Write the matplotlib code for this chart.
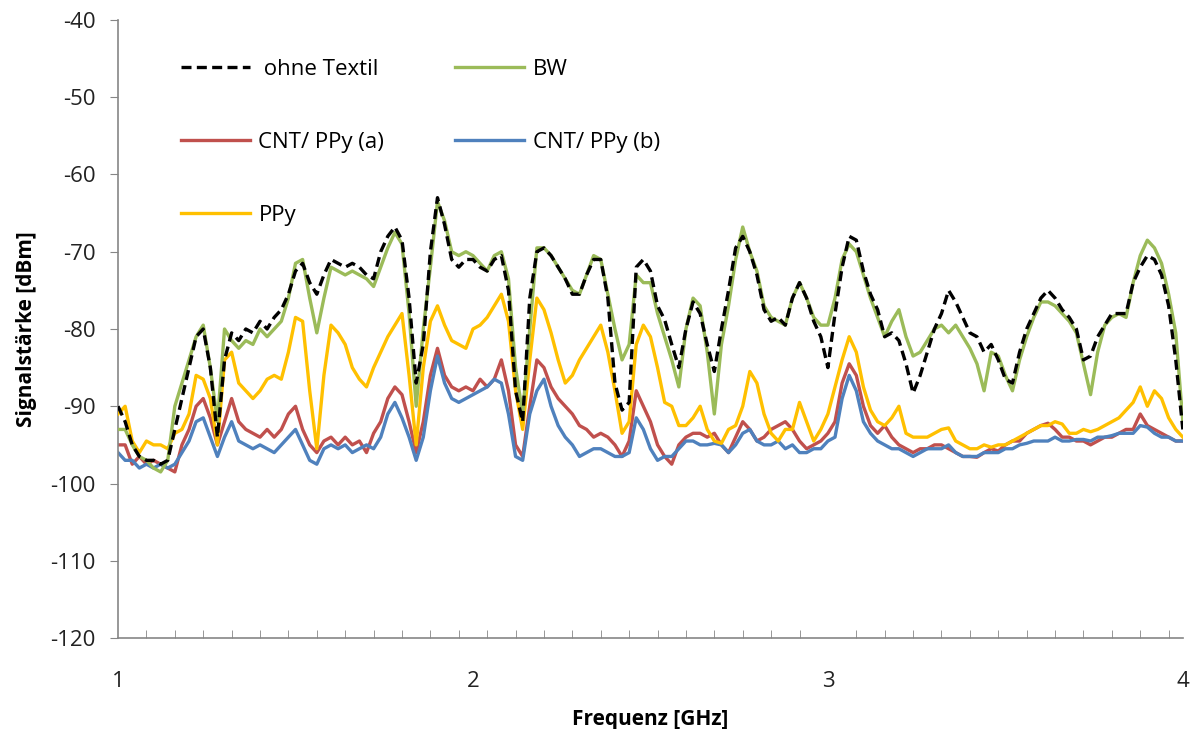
import numpy as np
import matplotlib.pyplot as plt
from matplotlib.ticker import FixedLocator

# Frequenzraster in GHz
freq = np.round(np.arange(1.0, 4.0001, 0.02), 2)

ohne_textil = [
    -90, -92, -95, -96.5, -97, -97, -97.5, -97, -93, -89,
    -85, -81, -80, -85, -94, -84, -80.5, -81.5, -80, -80.5,
    -79, -80, -78.5, -77.5, -75.5, -72.5, -71.5, -74, -75.5, -73,
    -71, -71.5, -72, -71.5, -72, -73, -73.5, -70, -68, -66.8,
    -68.5, -76, -87, -82, -70, -63, -66.5, -71, -72, -71,
    -71, -72, -72.5, -71, -70.5, -75, -88, -92, -76, -70,
    -69.5, -70.5, -72, -73.5, -75.5, -75.5, -73, -71, -71, -76,
    -87, -90.5, -89.5, -72, -71, -72.5, -77, -78.8, -82, -85,
    -80, -76.5, -78, -82, -85.5, -80, -75, -69.5, -68, -70,
    -73, -77.5, -79, -78.5, -79.5, -76, -74, -76, -79, -81,
    -85, -78, -72, -68, -68.5, -72.5, -75.5, -77.5, -81, -80.5,
    -81.5, -84.5, -88.3, -86, -83, -80, -78, -75, -76.5, -78.5,
    -80.5, -81, -83, -82, -84, -86.5, -87, -83, -80, -78,
    -76, -75, -76, -77.5, -78.5, -80, -84, -83.5, -81, -79.5,
    -78, -78, -78, -74, -72, -70.5, -71, -73, -77, -84,
    -93,
]

bw = [
    -93, -93, -95, -96.5, -97, -98, -98.5, -97, -90, -87,
    -84, -81, -79.5, -85, -92, -80, -81.5, -82.5, -81.5, -82,
    -80, -81, -80, -79, -76, -71.5, -71, -76, -80.5, -76,
    -72, -72.5, -73, -72.5, -73, -73.5, -74.5, -72, -69.5, -67.5,
    -69, -78, -90, -80, -72, -63.5, -66, -70, -70.5, -70,
    -70.5, -71.5, -72.5, -70.5, -70, -73.5, -85, -91, -80, -69.5,
    -69.5, -70.5, -72, -73.5, -75, -75.5, -73, -70.5, -71, -75.5,
    -80, -84, -82, -73, -74, -74, -78, -81, -84, -87.5,
    -80, -76, -77, -83, -91, -82, -77, -71, -66.8, -70,
    -72.5, -77, -78.5, -79, -79.5, -76, -74, -76, -78.5, -79.5,
    -79.5, -76, -71, -69, -70, -73, -76, -78.5, -81, -79,
    -77.5, -81, -83.5, -83, -81.5, -80, -79.5, -80.5, -79.5, -81,
    -82.5, -84.5, -88, -83, -83.5, -86, -88, -84, -81, -78.5,
    -76.5, -76.5, -77, -78, -79, -80.5, -84.5, -88.5, -83, -79.5,
    -78.5, -78, -78.5, -74, -70.5, -68.5, -69.5, -71.5, -75.5, -80.5,
    -92,
]

cnt_ppy_a = [
    -95, -95, -97.5, -96.5, -97.5, -97, -97.5, -98, -98.5, -95,
    -93, -90, -89, -91.5, -95, -92, -89, -92, -93, -93.5,
    -94, -93, -94, -93, -91, -90, -93, -95, -96, -94.5,
    -94, -95, -94, -95, -94.5, -96, -93.5, -92, -89, -87.5,
    -88.5, -92, -96, -92, -86, -82.5, -86, -87.5, -88, -87.5,
    -88, -86.5, -87.5, -86.5, -84, -88, -95, -96.5, -90, -84,
    -85, -87.5, -89, -90, -91, -92.5, -93, -94, -93.5, -94,
    -95, -96.5, -94.5, -88, -90, -92, -95, -96.5, -97.5, -95,
    -94, -93.5, -93.5, -94, -93.5, -95, -96, -94, -92, -93,
    -94.5, -94, -93, -92.5, -92, -93, -94.5, -95.5, -95, -94.5,
    -93.5, -92, -87, -84.5, -86, -90, -92.5, -93.5, -92.5, -94,
    -95, -95.5, -96, -95.5, -95.5, -95, -95, -95.5, -96, -96.5,
    -96.5, -96.6, -96, -95.5, -95.8, -95, -94.5, -94.5, -93.5, -93,
    -92.5, -92.2, -93, -94, -94, -94.5, -94.5, -95, -94.5, -94,
    -94, -93.5, -93, -93, -91, -92.5, -93, -93.5, -94, -94.5,
    -94.5,
]

cnt_ppy_b = [
    -96, -97, -97, -98, -97.5, -98, -97.5, -98, -97.5, -96,
    -94.5, -92, -91.5, -94, -96.5, -94, -92, -94.5, -95, -95.5,
    -95, -95.5, -96, -95, -94, -93, -95, -97, -97.5, -95.5,
    -95, -95.5, -95, -96, -95.5, -95, -95.5, -94, -91, -89.5,
    -91.5, -94, -97, -94, -88, -83.5, -87, -89, -89.5, -89,
    -88.5, -88, -87.5, -86.5, -87, -91, -96.5, -97, -91, -88,
    -86.5, -90, -92.5, -94, -95, -96.5, -96, -95.5, -95.5, -96,
    -96.5, -96.5, -96, -91.5, -93, -95.5, -97, -96.5, -96.5, -95.5,
    -94.5, -94.5, -95, -95, -94.8, -95, -96, -95, -93.5, -93,
    -94.5, -95, -95, -94.5, -95.5, -95, -96, -96, -95.5, -95.5,
    -94.5, -94, -89, -86, -88, -92, -93.5, -94.5, -95, -95.5,
    -95.5, -96, -96.5, -96, -95.5, -95.5, -95.5, -95, -96, -96.5,
    -96.5, -96.5, -96, -96, -96, -95.5, -95.5, -95, -94.8, -94.5,
    -94.5, -94.5, -94, -94.5, -94.5, -94.3, -94.3, -94.5, -94, -94,
    -93.8, -93.5, -93.5, -93.5, -92.5, -92.7, -93.5, -94, -94, -94.5,
    -94.5,
]

ppy = [
    -91, -90, -94.5, -96, -94.5, -95, -95, -95.5, -93.5, -93,
    -91, -86, -86.5, -89, -95, -84, -83, -87, -88, -89,
    -88, -86.5, -86, -86.5, -83, -78.5, -79, -88, -95.5, -86,
    -79.5, -80.5, -82, -85, -86.5, -87.5, -85, -83, -81, -79.5,
    -78, -86, -95, -85, -79, -77, -79.5, -81.5, -82, -82.5,
    -80, -79.5, -78.5, -77, -75.5, -79, -88, -93, -84, -76,
    -77.5, -80.5, -84, -87, -86, -84, -82.5, -81, -79.5, -83,
    -88, -93.5, -92, -82, -79.5, -81, -85, -89.5, -90, -92.5,
    -92.5, -91.5, -90, -93, -94.5, -94.8, -93, -92.5, -90, -85.5,
    -87, -91, -93.5, -94.5, -93, -93, -89.5, -92, -94.5, -93,
    -91, -87.5, -84, -81, -83, -87.5, -90.5, -92, -92.5, -91.5,
    -90, -93.5, -94, -94, -94, -93.5, -93, -92.8, -94.5, -95,
    -95.5, -95.5, -95, -95.3, -95, -95, -94.5, -94, -93.5, -93,
    -92.5, -92.5, -92, -92.3, -93.5, -93.5, -93, -93.3, -93, -92.5,
    -92, -91.5, -90.5, -89.5, -87.5, -90, -88, -89, -91.5, -93,
    -94,
]

plt.rcParams['font.family'] = ['Open Sans', 'DejaVu Sans']
plt.rcParams['axes.unicode_minus'] = False

fig = plt.figure(figsize=(11.96, 7.29), dpi=100)
ax = fig.add_axes([0.0987, 0.1248, 0.8903, 0.8478])

l_ohne, = ax.plot(freq, ohne_textil, color='black', lw=2.4, ls=(0, (3, 1.6)),
                  label=' ohne Textil', zorder=5)
l_bw, = ax.plot(freq, bw, color='#9BBB59', lw=2.4, label='BW', zorder=4)
l_ppy, = ax.plot(freq, ppy, color='#FFC000', lw=2.4, label='PPy', zorder=3)
l_a, = ax.plot(freq, cnt_ppy_a, color='#C0504D', lw=2.4, label='CNT/ PPy (a)', zorder=2)
l_b, = ax.plot(freq, cnt_ppy_b, color='#4F81BD', lw=2.4, label='CNT/ PPy (b)', zorder=2.5)

ax.set_xlim(1, 4)
ax.set_ylim(-120, -40)
ax.set_yticks(np.arange(-120, -39, 10))
ax.set_xticks([1, 2, 3, 4])
ax.xaxis.set_minor_locator(FixedLocator(np.arange(1.08, 4.0, 0.08)))

for s in ['top', 'right']:
    ax.spines[s].set_visible(False)
for s in ['left', 'bottom']:
    ax.spines[s].set_color('#868686')
    ax.spines[s].set_linewidth(1.2)

ax.tick_params(axis='y', direction='out', length=6, color='#868686',
               labelsize=16, pad=10, labelcolor='#222222')
ax.tick_params(axis='x', which='major', length=0, labelsize=16, pad=24,
               labelcolor='#222222')
ax.tick_params(axis='x', which='minor', direction='in', length=6,
               color='#868686')

ax.set_xlabel('Frequenz [GHz]', fontsize=15, fontweight='bold', labelpad=12)
ax.set_ylabel('Signalstärke [dBm]', fontsize=15, fontweight='bold', labelpad=10)

ax.legend(handles=[l_ohne, l_a, l_ppy, l_bw, l_b], ncol=2, frameon=False,
          loc='upper left', bbox_to_anchor=(0.04, 0.97), fontsize=16,
          handlelength=3.1, labelspacing=2.35, columnspacing=3.2,
          handletextpad=0.4)

fig.savefig('out.png', dpi=100)
